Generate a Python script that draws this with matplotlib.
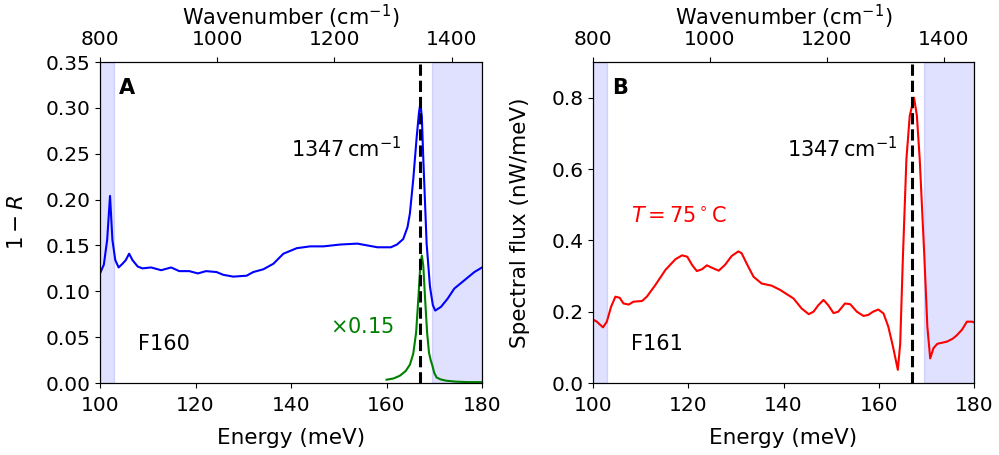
import numpy as np
import matplotlib
matplotlib.use("Agg")
import matplotlib.pyplot as plt

plt.rcParams['font.size'] = 15
plt.rcParams['xtick.labelsize'] = 14.5
plt.rcParams['ytick.labelsize'] = 14.5
plt.rcParams['axes.labelsize'] = 15.5
plt.rcParams['mathtext.fontset'] = 'dejavusans'

# Panel A: 1 - R (F160)
eA = [100, 100.8, 101.5, 102.1, 102.6, 103.2, 103.9, 104.7, 105.4, 106.1, 106.8, 107.9, 108.9,
      110.7, 112.8, 114.9, 116.6, 118.7, 120.5, 122.2, 124.4, 125.8, 127.9, 130.7, 132.1, 134.2,
      136.3, 138.4, 141.2, 144.0, 146.8, 150.3, 153.9, 156.0, 158.1, 160.9, 162.2, 163.5, 164.4,
      164.9, 165.6, 166.3, 166.8, 167.1, 167.4, 167.7, 168.4, 169.1, 169.7, 170.2, 171.4, 172.8,
      174.2, 176.3, 178.4, 180]
rA = [0.1195, 0.129, 0.156, 0.204, 0.156, 0.134, 0.126, 0.130, 0.134, 0.141, 0.134, 0.127, 0.125,
      0.126, 0.123, 0.126, 0.122, 0.122, 0.1195, 0.122, 0.121, 0.118, 0.116, 0.117, 0.121, 0.124,
      0.130, 0.141, 0.147, 0.149, 0.149, 0.151, 0.152, 0.150, 0.148, 0.148, 0.151, 0.157, 0.170,
      0.185, 0.222, 0.267, 0.295, 0.305, 0.290, 0.245, 0.152, 0.105, 0.085, 0.079, 0.083, 0.092,
      0.103, 0.112, 0.121, 0.126]

# Scaled emission (green, x0.15)
eG = [160, 161.5, 162.8, 164.0, 164.9, 165.6, 166.2, 166.7, 167.1, 167.4, 167.7, 168.1, 168.5,
      168.9, 169.25, 169.6, 170.0, 170.5, 171.3, 172.5, 174.5, 177, 180]
gG = [0.0036, 0.005, 0.008, 0.013, 0.020, 0.032, 0.055, 0.095, 0.130, 0.139, 0.128, 0.090, 0.055,
      0.033, 0.025, 0.019, 0.011, 0.006, 0.004, 0.0025, 0.0015, 0.001, 0.001]

# Panel B: spectral flux (F161)
eB = [100, 100.8, 102.1, 102.9, 103.8, 104.7, 105.6, 106.4, 107.5, 108.5, 110.3, 111.3, 113.1, 115.2,
      117.3, 118.7, 119.8, 120.8, 121.8, 122.9, 123.9, 125.0, 126.4, 127.7, 129.1, 130.5, 131.2,
      132.3, 133.7, 135.4, 137.5, 139.3, 142.1, 143.8, 145.3, 146.3, 147.3, 148.4, 149.4, 150.5,
      151.5, 152.9, 154.0, 155.4, 156.8, 157.8, 158.8, 159.9, 161.0, 162.0, 163.0, 164.0, 164.5,
      165.05, 165.8, 166.5, 167.4, 168.0, 168.6, 169.6, 170.2, 170.8, 171.5, 172.3, 173.3, 174.3,
      175.5, 176.4, 177.5, 178.5, 179.6, 180]
fB = [0.178, 0.172, 0.156, 0.172, 0.214, 0.242, 0.239, 0.223, 0.220, 0.228, 0.230, 0.242, 0.275, 0.317,
      0.347, 0.358, 0.354, 0.331, 0.314, 0.319, 0.330, 0.323, 0.315, 0.331, 0.356, 0.369, 0.364,
      0.334, 0.298, 0.279, 0.273, 0.261, 0.237, 0.209, 0.193, 0.200, 0.218, 0.233, 0.218, 0.196,
      0.200, 0.223, 0.221, 0.200, 0.188, 0.191, 0.200, 0.206, 0.195, 0.158, 0.101, 0.037, 0.110,
      0.346, 0.627, 0.749, 0.800, 0.750, 0.627, 0.346, 0.158, 0.069, 0.098, 0.110, 0.113, 0.116,
      0.124, 0.134, 0.150, 0.172, 0.172, 0.170]

mode_E = 167.0
E_LIM = (100, 180)
WN_LIM = (800, 1452)
E_TICKS = [100, 120, 140, 160, 180]
WN_TICKS = [800, 1000, 1200, 1400]

fig = plt.figure(figsize=(9.99, 4.55), dpi=100)
axA = fig.add_axes([0.1001, 0.1582, 0.3824, 0.7055])
axB = fig.add_axes([0.5936, 0.1582, 0.3814, 0.7055])

shade = dict(color='blue', alpha=0.12, lw=1)
for ax in (axA, axB):
    ax.axvspan(100, 103, **shade)
    ax.axvspan(169.6, 180, **shade)
    ax.axvline(mode_E, color='black', ls='--', lw=2.2, zorder=5)
    ax.set_xlim(*E_LIM)
    ax.set_xticks(E_TICKS)
    ax.tick_params(axis='x', pad=5.5)
    ax.set_xlabel('Energy (meV)', labelpad=10)
    top = ax.twiny()
    top.set_xlim(*WN_LIM)
    top.set_xticks(WN_TICKS)
    top.tick_params(axis='x', pad=6)
    top.set_xlabel('Wavenumber (cm$^{-1}$)', labelpad=3, fontsize=15)

axA.plot(eA, rA, color='blue', lw=1.5)
axA.plot(eG, gG, color='green', lw=1.5)
axA.set_ylim(0, 0.35)
axA.set_yticks(np.arange(0, 0.351, 0.05))
axA.set_ylabel('$1-R$', labelpad=13)
axA.text(0.05, 0.92, 'A', transform=axA.transAxes, fontweight='bold', va='center', ha='left')
axA.text(0.79, 0.73, r'$1347\,\mathrm{cm}^{-1}$', transform=axA.transAxes, ha='right', va='center')
axA.text(0.1, 0.12, 'F160', transform=axA.transAxes, ha='left', va='center')
axA.text(0.77, 0.175, r'$\times0.15$', transform=axA.transAxes, ha='right', va='center', color='green')

axB.plot(eB, fB, color='red', lw=1.5)
axB.set_ylim(0, 0.9)
axB.set_yticks([0.0, 0.2, 0.4, 0.6, 0.8])
axB.set_ylabel('Spectral flux (nW/meV)', labelpad=15)
axB.text(0.05, 0.92, 'B', transform=axB.transAxes, fontweight='bold', va='center', ha='left')
axB.text(0.80, 0.73, r'$1347\,\mathrm{cm}^{-1}$', transform=axB.transAxes, ha='right', va='center')
axB.text(0.1, 0.12, 'F161', transform=axB.transAxes, ha='left', va='center')
axB.text(0.1, 0.52, r'$T=75^\circ\mathrm{C}$', transform=axB.transAxes, ha='left', va='center', color='red')

fig.savefig('out.png', dpi=100)
